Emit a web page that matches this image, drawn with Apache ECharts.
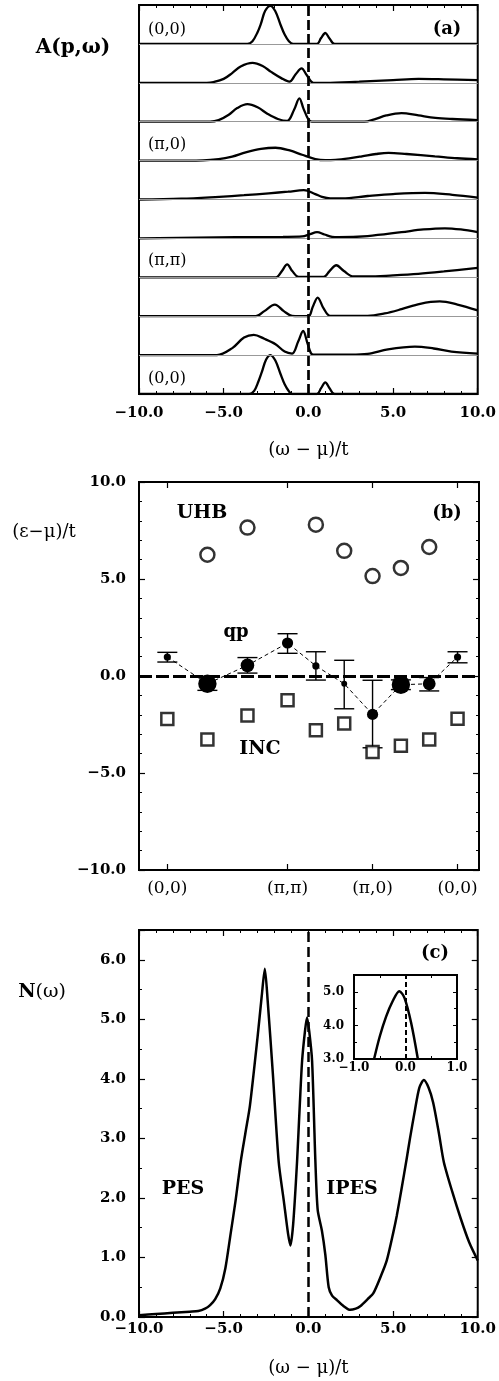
<!DOCTYPE html>
<html>
<head>
<meta charset="utf-8">
<script src="https://cdn.jsdelivr.net/npm/echarts@6.0.0/dist/echarts.min.js"></script>
<style>
html, body { margin: 0; padding: 0; background: #fff; }
#main { width: 499px; height: 1381px; }
</style>
</head>
<body>
<div id="main"></div>
<script>
// (a) A(p,w) : [w, A] with A in units of one row height, top row first
const row1 = [[-10,0],[-3.6,0],[-3.3,0.07],[-3.0,0.3],[-2.8,0.52],[-2.55,0.85],[-2.24,0.98],[-1.95,0.84],[-1.65,0.5],[-1.4,0.24],[-1.15,0.07],[-0.9,0],[0.5,0],[0.75,0.15],[1.0,0.28],[1.25,0.14],[1.55,0],[10,0]];
const row2 = [[-10,0],[-6,0],[-5.6,0.02],[-5.0,0.1],[-4.5,0.25],[-4.0,0.42],[-3.3,0.51],[-2.7,0.43],[-2.2,0.28],[-1.6,0.12],[-1.12,0.03],[-0.75,0.22],[-0.4,0.37],[-0.1,0.2],[0.3,0],[1,0],[3,0.03],[5,0.07],[6.5,0.1],[8,0.09],[10,0.07]];
const row3 = [[-10,0],[-5.8,0],[-5.3,0.04],[-4.7,0.18],[-4.2,0.35],[-3.6,0.45],[-3.0,0.37],[-2.4,0.2],[-1.8,0.07],[-1.25,0.02],[-0.85,0.3],[-0.53,0.6],[-0.3,0.35],[0,0.06],[0.2,0],[3.3,0],[3.9,0.06],[4.6,0.16],[5.5,0.22],[6.5,0.16],[7.5,0.1],[8.5,0.07],[10,0.04]];
const row4 = [[-10,0],[-7,0],[-5.3,0.04],[-4.5,0.1],[-3.7,0.21],[-2.8,0.3],[-1.94,0.33],[-1.1,0.26],[-0.37,0.15],[0.41,0.04],[1.0,0.01],[1.6,0.02],[2.4,0.06],[3.16,0.11],[4.0,0.17],[4.73,0.2],[5.8,0.17],[7.47,0.11],[8.8,0.06],[10,0.03]];
const row5 = [[-10,0],[-7.5,0.02],[-5.27,0.07],[-3.8,0.11],[-2.34,0.16],[-1.2,0.2],[-0.27,0.24],[0.41,0.14],[0.8,0.07],[1.29,0.03],[2.0,0.03],[3.5,0.09],[5.0,0.14],[6.88,0.17],[8.5,0.12],[10,0.05]];
const row6 = [[-10,0],[-4.3,0.03],[-1.5,0.04],[-0.37,0.05],[0.1,0.11],[0.51,0.16],[0.95,0.1],[1.4,0.04],[1.78,0.03],[3.5,0.06],[5.5,0.16],[6.8,0.23],[8.06,0.26],[9.0,0.23],[10,0.16]];
const row7 = [[-10,0],[-2,0],[-1.84,0.01],[-1.55,0.17],[-1.25,0.33],[-0.95,0.16],[-0.57,0.01],[0.9,0.01],[1.25,0.16],[1.65,0.31],[2.1,0.16],[2.67,0.02],[3.5,0.02],[5,0.05],[6.49,0.09],[8,0.15],[10,0.24]];
const row8 = [[-10,0],[-3.1,0],[-2.6,0.13],[-1.98,0.3],[-1.45,0.13],[-0.96,0.01],[0,0],[0.25,0.23],[0.55,0.48],[0.9,0.2],[1.29,0.01],[3.5,0.01],[4.5,0.07],[5.5,0.18],[6.6,0.32],[7.76,0.38],[8.8,0.3],[10,0.15]];
const row9 = [[-10,0],[-5.4,0],[-4.49,0.18],[-3.8,0.45],[-3.22,0.52],[-2.6,0.42],[-1.94,0.28],[-1.4,0.09],[-0.96,0.04],[-0.6,0.35],[-0.31,0.62],[-0.05,0.3],[0.15,0.05],[0.3,0.01],[2.5,0.01],[3.5,0.03],[4.7,0.15],[6.29,0.22],[7.4,0.17],[8.45,0.09],[10,0.04]];
const row10 = [[-10,0],[-3.5,0],[-3.2,0.08],[-2.95,0.32],[-2.75,0.56],[-2.5,0.88],[-2.24,1.0],[-1.95,0.86],[-1.65,0.52],[-1.4,0.25],[-1.15,0.07],[-0.95,0],[0.5,0],[0.75,0.15],[1.0,0.3],[1.25,0.15],[1.55,0],[10,0]];
const rowCurves = [row1, row2, row3, row4, row5, row6, row7, row8, row9, row10];
const rowLabels = ['(0,0)', '', '', '(π,0)', '', '', '(π,π)', '', '', '(0,0)'];

// (b) dispersion along (0,0)-(pi,pi)-(pi,0)-(0,0), 6x6 lattice
const kPath = [0, 1.414, 2.828, 4.243, 5.243, 6.243, 7.243, 8.243, 9.243, 10.243];
const kTickPos = [0, 4.243, 7.243, 10.243];
const kTickLabels = ['(0,0)', '(π,π)', '(π,0)', '(0,0)'];
const uhb = [null, 6.25, 7.65, null, 7.8, 6.45, 5.15, 5.57, 6.65, null];
const qp = [0.98, -0.4, 0.55, 1.7, 0.52, -0.4, -1.98, -0.45, -0.4, 0.98];
const qpErrHi = [1.22, -0.05, 0.95, 2.18, 1.25, 0.81, -0.22, -0.2, -0.08, 1.25];
const qpErrLo = [0.72, -0.74, 0.15, 1.17, -0.21, -1.69, -3.7, -0.7, -0.77, 0.68];
const qpWeight = [0.2, 0.9, 0.6, 0.45, 0.2, 0.12, 0.45, 0.9, 0.55, 0.2];
const inc = [-2.22, -3.27, -2.03, -1.25, -2.8, -2.45, -3.92, -3.6, -3.27, -2.2];

// (c) N(w) and inset
const dos = [[-10,0.03],[-9,0.05],[-8,0.07],[-7,0.09],[-6.5,0.1],[-6.1,0.14],[-5.8,0.2],[-5.5,0.3],[-5.2,0.48],[-4.9,0.82],[-4.6,1.38],[-4.3,1.95],[-4.0,2.6],[-3.7,3.12],[-3.45,3.55],[-3.0,4.7],[-2.75,5.4],[-2.57,5.85],[-2.4,5.3],[-2.1,4.1],[-1.75,2.6],[-1.45,1.95],[-1.2,1.4],[-1.06,1.2],[-0.9,1.55],[-0.67,2.6],[-0.5,3.6],[-0.37,4.3],[-0.2,4.8],[-0.08,5.03],[0.05,4.8],[0.22,4.3],[0.41,2.65],[0.55,1.8],[0.8,1.45],[1.0,1.05],[1.2,0.5],[1.4,0.36],[1.7,0.28],[2.0,0.2],[2.47,0.12],[2.8,0.14],[3.06,0.18],[3.5,0.3],[3.84,0.4],[4.3,0.7],[4.63,0.95],[5.0,1.4],[5.22,1.7],[5.5,2.15],[5.8,2.65],[6.0,3.0],[6.29,3.47],[6.55,3.85],[6.82,3.98],[7.1,3.85],[7.37,3.6],[7.7,3.1],[8.0,2.6],[8.5,2.1],[9.0,1.65],[9.5,1.25],[10,0.95]];
const dosInset = [[-0.61,3.0],[-0.5,3.67],[-0.375,4.27],[-0.25,4.72],[-0.12,5.02],[-0.02,4.82],[0.11,4.07],[0.24,3.0]];

const FONT = 'DejaVu Serif';
const fmt = v => (v < 0 ? '\u2212' : '') + Math.abs(v).toFixed(1);
const black = '#000';

function tickAxis (extra) {
  return Object.assign({
    type: 'value',
    axisLine: { show: false, onZero: false },
    axisTick: { show: true, inside: true, length: 6, lineStyle: { color: black, width: 1.2 } },
    minorTick: { show: false },
    axisLabel: { show: false },
    splitLine: { show: false }
  }, extra);
}
const labelStyle = { show: true, color: black, fontFamily: FONT, fontWeight: 'bold', fontSize: 15 };
const minor = n => ({ show: true, splitNumber: n, length: 3, lineStyle: { color: black, width: 1 } });
const nameStyle = { color: black, fontFamily: FONT, fontSize: 18 };
const smallTick = { show: true, inside: true, length: 4, lineStyle: { color: black, width: 1 } };

const txt = (x, y, text, size, bold, align) => ({
  type: 'text', x: x, y: y, z: 100,
  style: { text: text, fill: black, font: (bold ? 'bold ' : '') + size + 'px "' + FONT + '"', align: align || 'center', verticalAlign: 'middle' }
});

const frame = { show: true, borderColor: black, borderWidth: 2, backgroundColor: 'transparent' };

let series = [];

// (a)
series.push({
  type: 'line', xAxisIndex: 0, yAxisIndex: 0, data: [], z: 1,
  markLine: { silent: true, symbol: 'none', label: { show: false },
    lineStyle: { color: '#999', width: 1, type: 'solid' },
    data: [1, 2, 3, 4, 5, 6, 7, 8, 9].map(v => ({ yAxis: v })) }
});
rowCurves.forEach((r, k) => {
  series.push({
    type: 'line', xAxisIndex: 0, yAxisIndex: 0, z: 3,
    smooth: 0.35, showSymbol: false, symbol: 'none',
    lineStyle: { color: black, width: 2.3 },
    data: r.map(p => [p[0], 9 - k + p[1]])
  });
});
series.push({
  type: 'line', xAxisIndex: 0, yAxisIndex: 0, data: [], z: 5,
  markLine: { silent: true, symbol: 'none', label: { show: false },
    lineStyle: { color: black, width: 2.7, type: [10, 4] },
    data: [{ xAxis: 0 }] }
});

// (b)
series.push({
  type: 'custom', xAxisIndex: 2, yAxisIndex: 1, z: 2,
  data: qp.map((v, i) => [kPath[i], qpErrLo[i], qpErrHi[i]]),
  renderItem: function (params, api) {
    const lo = api.coord([api.value(0), api.value(1)]);
    const hi = api.coord([api.value(0), api.value(2)]);
    const w = 10;
    const st = { stroke: black, lineWidth: 1.4 };
    return { type: 'group', children: [
      { type: 'line', shape: { x1: lo[0], y1: lo[1], x2: hi[0], y2: hi[1] }, style: st },
      { type: 'line', shape: { x1: lo[0] - w, y1: lo[1], x2: lo[0] + w, y2: lo[1] }, style: st },
      { type: 'line', shape: { x1: hi[0] - w, y1: hi[1], x2: hi[0] + w, y2: hi[1] }, style: st }
    ] };
  }
});
series.push({
  type: 'line', xAxisIndex: 2, yAxisIndex: 1, z: 4,
  data: qp.map((v, i) => [kPath[i], v]),
  symbol: 'circle',
  symbolSize: (val, p) => 4 + 16 * qpWeight[p.dataIndex],
  itemStyle: { color: black },
  lineStyle: { color: black, width: 1, type: [4, 3] },
  markLine: { silent: true, symbol: 'none', label: { show: false },
    lineStyle: { color: black, width: 3, type: [13, 4] },
    data: [{ yAxis: 0 }] }
});
series.push({
  type: 'scatter', xAxisIndex: 2, yAxisIndex: 1, z: 4,
  data: uhb.map((v, i) => v === null ? null : [kPath[i], v]).filter(d => d),
  symbol: 'circle', symbolSize: 14,
  itemStyle: { color: '#fff', borderColor: black, borderWidth: 2.5 }
});
series.push({
  type: 'scatter', xAxisIndex: 2, yAxisIndex: 1, z: 4,
  data: inc.map((v, i) => [kPath[i], v]),
  symbol: 'rect', symbolSize: 12,
  itemStyle: { color: '#fff', borderColor: black, borderWidth: 2.5 }
});

// (c)
series.push({
  type: 'line', xAxisIndex: 4, yAxisIndex: 3, z: 3,
  data: dos, smooth: 0.25, showSymbol: false, symbol: 'none',
  lineStyle: { color: black, width: 2.5 },
  markLine: { silent: true, symbol: 'none', label: { show: false },
    lineStyle: { color: black, width: 2.5, type: [10, 5] },
    data: [{ xAxis: 0 }] }
});
series.push({
  type: 'line', xAxisIndex: 6, yAxisIndex: 5, z: 3,
  data: dosInset, smooth: 0.3, showSymbol: false, symbol: 'none', clip: true,
  lineStyle: { color: black, width: 2.5 },
  markLine: { silent: true, symbol: 'none', label: { show: false },
    lineStyle: { color: black, width: 2, type: [5, 3] },
    data: [{ xAxis: 0 }] }
});

let option = {
  backgroundColor: '#fff',
  animation: false,
  grid: [
    Object.assign({ left: 139, top: 5, width: 340, height: 389 }, frame),
    Object.assign({ left: 139, top: 482, width: 340, height: 388 }, frame),
    Object.assign({ left: 139, top: 930, width: 340, height: 387 }, frame),
    Object.assign({ left: 354, top: 975, width: 103, height: 84 }, frame)
  ],
  xAxis: [
    tickAxis({ gridIndex: 0, position: 'bottom', min: -10, max: 10, interval: 5, minorTick: minor(5),
      axisLabel: Object.assign({ formatter: fmt, margin: 12 }, labelStyle),
      name: '(ω \u2212 μ)/t', nameLocation: 'middle', nameGap: 47, nameTextStyle: nameStyle }),
    tickAxis({ gridIndex: 0, position: 'top', min: -10, max: 10, interval: 5, minorTick: minor(5) }),
    tickAxis({ gridIndex: 1, position: 'bottom', min: -1, max: 11,
      axisTick: { show: true, inside: true, length: 6, customValues: kTickPos, lineStyle: { color: black, width: 1.2 } },
      axisLabel: { show: true, customValues: kTickPos, margin: 10, color: black, fontFamily: FONT, fontSize: 17,
        formatter: v => kTickLabels[kTickPos.findIndex(p => Math.abs(p - v) < 1e-6)] } }),
    tickAxis({ gridIndex: 1, position: 'top', min: -1, max: 11,
      axisTick: { show: true, inside: true, length: 6, customValues: kTickPos, lineStyle: { color: black, width: 1.2 } } }),
    tickAxis({ gridIndex: 2, position: 'bottom', min: -10, max: 10, interval: 5, minorTick: minor(5),
      axisLabel: Object.assign({ formatter: fmt, margin: 5 }, labelStyle),
      name: '(ω \u2212 μ)/t', nameLocation: 'middle', nameGap: 42, nameTextStyle: nameStyle }),
    tickAxis({ gridIndex: 2, position: 'top', min: -10, max: 10, interval: 5, minorTick: minor(5) }),
    tickAxis({ gridIndex: 3, position: 'bottom', min: -1, max: 1, interval: 1, minorTick: minor(2),
      axisTick: smallTick,
      axisLabel: Object.assign({}, labelStyle, { formatter: fmt, margin: 3, fontSize: 12 }) }),
    tickAxis({ gridIndex: 3, position: 'top', min: -1, max: 1, interval: 1, minorTick: minor(2), axisTick: smallTick })
  ],
  yAxis: [
    tickAxis({ gridIndex: 0, min: 0, max: 10, axisTick: { show: false } }),
    tickAxis({ gridIndex: 1, position: 'left', min: -10, max: 10, interval: 5, minorTick: minor(5),
      axisLabel: Object.assign({ formatter: fmt, margin: 13 }, labelStyle) }),
    tickAxis({ gridIndex: 1, position: 'right', min: -10, max: 10, interval: 5, minorTick: minor(5) }),
    tickAxis({ gridIndex: 2, position: 'left', min: 0, max: 6.5, interval: 1, minorTick: minor(2),
      axisLabel: Object.assign({ formatter: fmt, margin: 13, showMaxLabel: false }, labelStyle) }),
    tickAxis({ gridIndex: 2, position: 'right', min: 0, max: 6.5, interval: 1, minorTick: minor(2) }),
    tickAxis({ gridIndex: 3, position: 'left', min: 3, max: 5.5, interval: 1, minorTick: minor(2),
      axisTick: smallTick,
      axisLabel: Object.assign({}, labelStyle, { formatter: fmt, margin: 10, fontSize: 12, showMaxLabel: false }) }),
    tickAxis({ gridIndex: 3, position: 'right', min: 3, max: 5.5, interval: 1, minorTick: minor(2), axisTick: smallTick })
  ],
  graphic: [
    txt(73, 48, 'A(p,ω)', 20, true),
    txt(447, 29, '(a)', 18, true),
    txt(148, 30, rowLabels[0], 16, false, 'left'),
    txt(148, 145, rowLabels[3], 16, false, 'left'),
    txt(148, 261, rowLabels[6], 16, false, 'left'),
    txt(148, 379, rowLabels[9], 16, false, 'left'),
    txt(44, 532, '(ε\u2212μ)/t', 18, false),
    txt(202, 513, 'UHB', 19, true),
    txt(447, 513, '(b)', 18, true),
    txt(236, 632, 'qp', 18, true),
    txt(260, 749, 'INC', 19, true),
    {
      type: 'text', x: 42, y: 992, z: 100,
      style: { text: '{b|N}{n|(ω)}', verticalAlign: 'middle', align: 'center',
        rich: { b: { fill: black, fontFamily: FONT, fontWeight: 'bold', fontSize: 19 },
                n: { fill: black, fontFamily: FONT, fontSize: 19 } } }
    },
    txt(435, 953, '(c)', 18, true),
    txt(183, 1189, 'PES', 19, true),
    txt(352, 1189, 'IPES', 19, true)
  ],
  series: series
};

let myChart = echarts.init(document.getElementById('main'), null, { renderer: 'canvas' });
myChart.setOption(option);
</script>
</body>
</html>
